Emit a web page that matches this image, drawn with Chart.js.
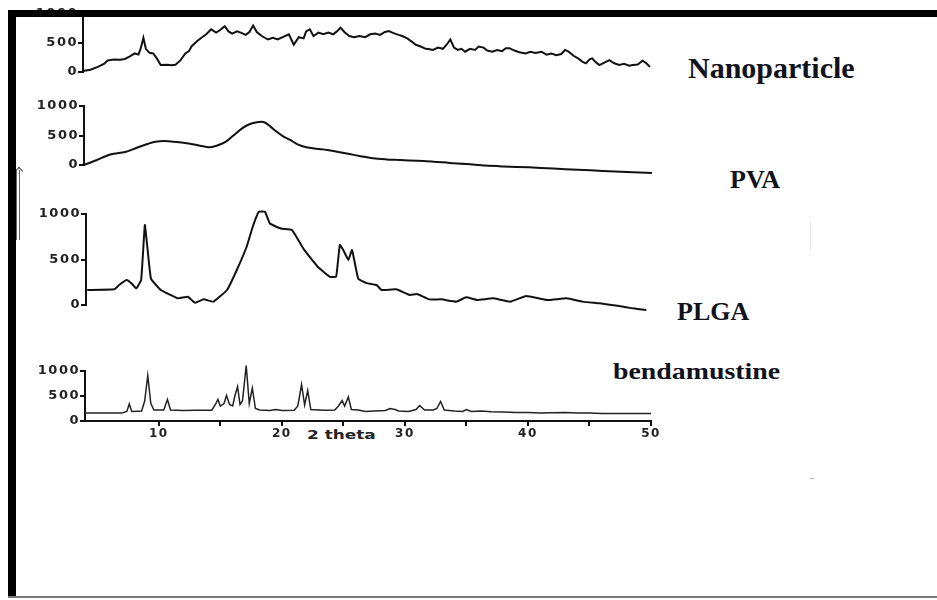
<!DOCTYPE html>
<html>
<head>
<meta charset="utf-8">
<script src="https://cdn.jsdelivr.net/npm/chart.js@4.4.1/dist/chart.umd.min.js"></script>
<style>
  html, body { margin: 0; padding: 0; background: #fff; }
  body { width: 937px; height: 600px; position: relative; overflow: hidden; }
  canvas { position: absolute; }
  .bar { position: absolute; background: #000; z-index: 5; }
  .lbl {
    position: absolute; white-space: nowrap; line-height: 1;
    font-family: 'Liberation Serif', 'Times New Roman', serif; font-weight: bold;
    color: #10121c; transform-origin: left top;
  }
</style>
</head>
<body>

<!-- cornice nera della figura -->
<div class="bar" style="left:8px; top:10px; width:929px; height:7px;"></div>
<div class="bar" style="left:8px; top:10px; width:8px; height:588px;"></div>
<div class="bar" style="left:8px; top:596px; width:929px; height:2px; background:#777;"></div>

<!-- freccia a sinistra -->
<div style="position:absolute; left:16px; top:170px; width:2px; height:70px; border-left:1px solid #666; border-right:1px solid #666;"></div>
<div style="position:absolute; left:16px; top:168px; width:5px; height:5px; border-top:1.5px solid #444; border-left:1.5px solid #444; transform:rotate(45deg);"></div>

<!-- segni chiari sparsi -->
<div style="position:absolute; left:810px; top:222px; width:1px; height:28px; background:#e4e4e4;"></div>
<div style="position:absolute; left:810px; top:478px; width:4px; height:1px; background:#bbb;"></div>

<!-- etichette -->
<div class="lbl" style="left:688px; top:53px; font-size:30px;">Nanoparticle</div>
<div class="lbl" style="left:730px; top:167px; font-size:26px;">PVA</div>
<div class="lbl" style="left:677px; top:299px; font-size:26px;">PLGA</div>
<div class="lbl" style="left:613px; top:359px; font-size:24px; transform:scaleX(1.16);">bendamustine</div>
<div class="lbl" style="left:307px; top:428px; font-size:13px; font-family:'DejaVu Sans', sans-serif; color:#222; transform:scaleX(1.3);">2 theta</div>

<script>
// ============================================
// DATI (2 theta, intensità)
// ============================================
const Y_TICKS = [0, 500, 1000];
const X_TICKS = [10, 15, 20, 25, 30, 35, 40, 45, 50];

// Nanoparticle
const NANO_X = [4.0, 4.6, 5.2, 5.7, 6.0, 6.5, 7.0, 7.4, 7.8, 8.2, 8.5, 8.7, 8.9, 9.1, 9.4, 9.7, 10.0, 10.3, 10.8, 11.2,
  11.5, 11.9, 12.3, 12.6, 12.8, 13.2, 13.6, 14.0, 14.4, 14.8, 15.1, 15.5, 15.8, 16.1, 16.5, 16.8, 17.2, 17.5, 17.8, 18.1,
  18.5, 19.0, 19.4, 19.8, 20.2, 20.7, 21.1, 21.5, 21.9, 22.1, 22.4, 22.7, 23.1, 23.5, 23.9, 24.3, 24.6, 24.9, 25.2, 25.6,
  26.0, 26.4, 26.9, 27.3, 27.7, 28.1, 28.5, 28.8, 29.2, 29.6, 29.9, 30.3, 30.7, 31.0, 31.4, 31.8, 32.0, 32.4, 32.8, 33.2,
  33.5, 33.8, 34.1, 34.4, 34.7, 35.0, 35.4, 35.8, 36.1, 36.5, 36.8, 37.2, 37.6, 38.0, 38.3, 38.6, 39.0, 39.4, 39.9, 40.3,
  40.7, 41.2, 41.6, 42.0, 42.4, 42.8, 43.1, 43.4, 43.8, 44.2, 44.5, 44.8, 45.1, 45.3, 45.6, 45.9, 46.3, 46.7, 47.1, 47.5,
  47.9, 48.3, 48.6, 49.0, 49.4, 49.7, 50.0];
const NANO_Y = [18, 40, 88, 140, 200, 215, 210, 225, 270, 320, 300, 420, 590, 400, 330, 320, 230, 120, 125, 115,
  125, 200, 320, 360, 440, 520, 590, 650, 735, 680, 720, 790, 700, 660, 700, 680, 640, 690, 800, 690,
  620, 560, 590, 560, 600, 650, 470, 600, 580, 700, 735, 620, 680, 650, 680, 650, 700, 765, 690, 620,
  600, 620, 600, 650, 665, 640, 690, 705, 670, 640, 620, 580, 520, 470, 440, 400, 395, 380, 420, 400,
  470, 560, 420, 380, 400, 350, 400, 380, 440, 420, 370, 350, 380, 360, 410, 410, 370, 340, 320, 350,
  330, 350, 300, 320, 290, 310, 380, 350, 280, 230, 180, 150, 220, 235, 170, 120, 160, 205, 150, 120,
  140, 110, 120, 130, 195, 150, 88];

// PVA
const PVA_X = [4.0, 5.0, 6.0, 6.7, 7.4, 8.0, 8.5, 9.2, 9.8, 10.5, 11.2, 11.9, 12.5, 13.3, 14.2, 14.8, 15.5, 16.1, 16.8, 17.4,
  18.0, 18.6, 19.1, 19.6, 20.1, 20.7, 21.3, 22.0, 22.8, 23.7, 24.6, 25.5, 26.4, 27.4, 28.5, 29.6, 31.0, 32.3, 33.6, 35.0,
  36.5, 38.0, 40.0, 42.0, 44.0, 46.0, 48.0, 50.0];
const PVA_Y = [0, 80, 170, 200, 225, 270, 310, 360, 395, 405, 395, 380, 365, 330, 300, 330, 395, 500, 620, 690,
  725, 725, 650, 565, 490, 425, 350, 300, 275, 255, 220, 185, 150, 113, 95, 85, 70, 57, 35, 17,
  -10, -25, -40, -60, -80, -100, -118, -135];

// PLGA
const PLGA_X = [4.1, 6.3, 6.7, 7.3, 7.7, 8.1, 8.5, 8.8, 9.0, 9.3, 10.1, 11.5, 12.3, 12.9, 13.6, 14.4, 15.5, 16.3, 17.1, 17.6,
  18.1, 18.6, 19.0, 19.9, 20.8, 21.8, 22.9, 23.9, 24.4, 24.7, 25.0, 25.4, 25.7, 26.2, 26.9, 27.7, 28.1, 29.3, 30.4, 31.0,
  32.0, 33.0, 34.2, 35.0, 35.9, 37.2, 38.6, 39.9, 41.6, 43.2, 44.5, 45.9, 47.5, 48.6, 49.7];
const PLGA_Y = [165, 172, 220, 275, 240, 183, 275, 880, 640, 290, 165, 73, 90, 25, 62, 37, 165, 385, 640, 860,
  1025, 1025, 895, 840, 825, 605, 420, 310, 310, 660, 600, 495, 605, 290, 240, 220, 165, 172, 110, 120,
  62, 62, 37, 84, 55, 73, 37, 100, 55, 73, 37, 18, -11, -37, -55];

// bendamustine
const BEND_X = [4.0, 7.0, 7.4, 7.6, 7.8, 8.6, 8.85, 9.1, 9.35, 9.6, 10.4, 10.7, 10.95, 12.0, 13.0, 14.3, 14.6, 14.8, 15.0, 15.3,
  15.5, 15.75, 16.0, 16.2, 16.4, 16.6, 16.8, 17.1, 17.35, 17.6, 17.85, 18.2, 19.0, 19.5, 20.0, 21.0, 21.3, 21.6, 21.85, 22.1,
  22.35, 23.0, 23.5, 24.3, 24.6, 24.9, 25.1, 25.4, 25.65, 26.2, 26.8, 27.5, 28.4, 28.8, 29.2, 29.5, 30.3, 30.9, 31.2, 31.6,
  32.3, 32.6, 32.9, 33.2, 34.0, 34.7, 35.0, 35.4, 36.2, 37.0, 38.0, 39.0, 40.0, 41.0, 42.0, 43.0, 44.0, 45.0, 46.0, 48.0, 50.0];
const BEND_Y = [160, 160, 190, 340, 190, 200, 400, 910, 350, 220, 220, 430, 220, 210, 215, 215, 330, 430, 300, 350,
  510, 330, 300, 520, 690, 330, 400, 1110, 350, 660, 250, 220, 210, 230, 210, 215, 300, 730, 320, 610,
  230, 220, 215, 220, 300, 410, 300, 480, 230, 220, 190, 200, 210, 250, 230, 200, 190, 230, 310, 220,
  220, 250, 390, 220, 200, 190, 230, 190, 200, 185, 180, 170, 170, 160, 165, 170, 160, 160, 150, 150, 150];

// ============================================
// STILE COMUNE
// ============================================
const INK = '#111';
const TICK_FONT = { family: 'DejaVu Sans', weight: 'bold', size: 13 };
const Y_AXIS_W = 60;

// spaziatura lettere per i numeri (nell'originale sono molto larghi)
const spacingPlugin = {
    id: 'spacing',
    beforeDraw(chart) { chart.ctx.letterSpacing = '1.5px'; }
};

// crea un pannello: box = area del grafico in pixel della pagina
function drawPanel(box, xs, ys, line, showX) {
    const padTop = 12;
    const padBottom = showX ? 4 : 12;
    const xAxisH = showX ? 26 : 0;
    const padRight = 14;

    const canvas = document.createElement('canvas');
    const left = box.left - Y_AXIS_W;
    canvas.width = box.right - left + padRight;
    canvas.height = box.bottom - box.top + padTop + padBottom + xAxisH;
    canvas.style.left = left + 'px';
    canvas.style.top = (box.top - padTop) + 'px';
    document.body.appendChild(canvas);

    new Chart(canvas, {
        type: 'line',
        data: {
            datasets: [{
                data: xs.map((x, i) => ({ x: x, y: ys[i] })),
                borderColor: line.color,
                borderWidth: line.width,
                tension: line.tension,
                pointRadius: 0,
                fill: false,
                clip: false            // le curve escono un po' sotto lo 0
            }]
        },
        options: {
            responsive: false,
            animation: false,
            devicePixelRatio: 1,
            layout: { padding: { top: padTop, bottom: padBottom, left: 0, right: padRight } },
            plugins: { legend: { display: false }, tooltip: { enabled: false } },
            scales: {
                x: {
                    type: 'linear',
                    min: 4,
                    max: 50,
                    display: showX,
                    afterBuildTicks: s => { s.ticks = X_TICKS.map(v => ({ value: v })); },
                    afterFit: s => { s.height = xAxisH; },
                    grid: { drawOnChartArea: false, drawTicks: true, tickLength: 5, color: INK, lineWidth: 2 },
                    border: { display: true, color: INK, width: 2 },
                    ticks: {
                        font: { family: 'DejaVu Sans', weight: 'bold', size: 12 },
                        color: '#222',
                        padding: 1,
                        maxRotation: 0,
                        autoSkip: false,
                        callback: v => (v % 10 === 0 ? String(v) : '')
                    }
                },
                y: {
                    min: 0,
                    max: 1000,
                    afterBuildTicks: s => { s.ticks = Y_TICKS.map(v => ({ value: v })); },
                    afterFit: s => { s.width = Y_AXIS_W; },
                    grid: { drawOnChartArea: false, drawTicks: true, tickLength: 5, color: INK, lineWidth: 2 },
                    border: { display: true, color: INK, width: 2 },
                    ticks: { font: TICK_FONT, color: '#222', padding: 0, callback: v => String(v) }
                }
            }
        },
        plugins: [spacingPlugin]
    });
}

// ============================================
// I QUATTRO PANNELLI
// ============================================
drawPanel({ left: 83, right: 650, top: 14, bottom: 72 }, NANO_X, NANO_Y, { color: INK, width: 2, tension: 0 }, false);
drawPanel({ left: 84, right: 652, top: 106, bottom: 165 }, PVA_X, PVA_Y, { color: INK, width: 2, tension: 0.3 }, false);
drawPanel({ left: 86, right: 650, top: 214, bottom: 305 }, PLGA_X, PLGA_Y, { color: INK, width: 2, tension: 0.1 }, false);
drawPanel({ left: 85, right: 651, top: 371, bottom: 421 }, BEND_X, BEND_Y, { color: '#222', width: 1.5, tension: 0 }, true);
</script>
</body>
</html>
